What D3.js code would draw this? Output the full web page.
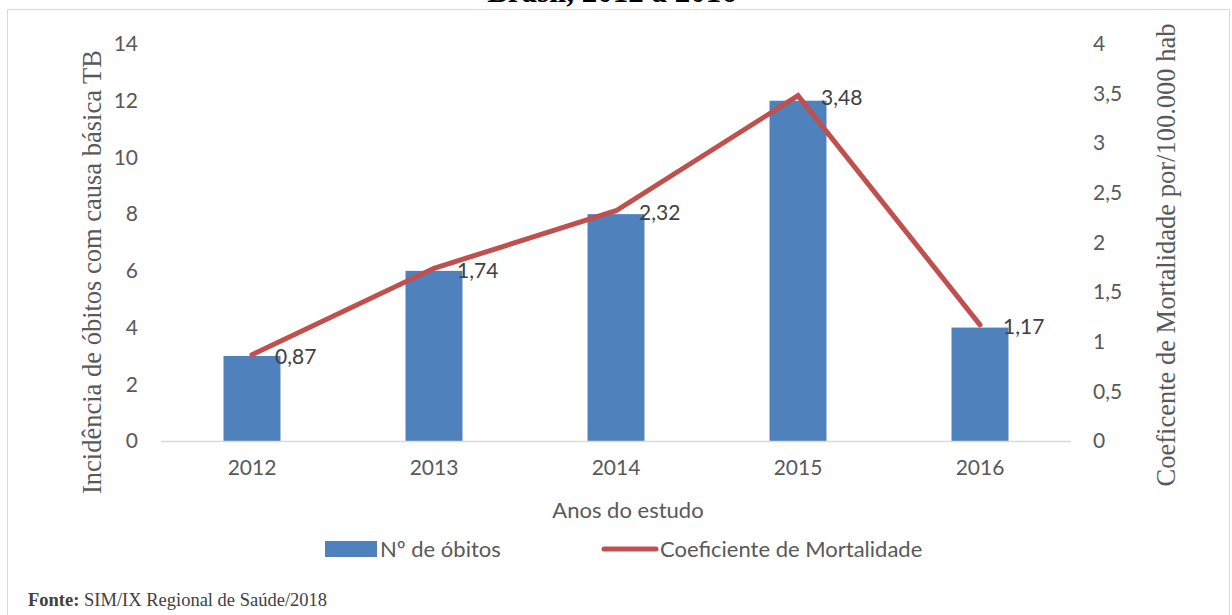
<!DOCTYPE html>
<html>
<head>
<meta charset="utf-8">
<script src="https://cdn.jsdelivr.net/npm/d3@7"></script>
<style>
  body { margin: 0; background: #fff; }
  svg { display: block; }
</style>
</head>
<body>
<svg width="1232" height="615"></svg>
<script>
const svg = d3.select("svg"),
    width = +svg.attr("width"),
    height = +svg.attr("height")

// data
const years = ["2012", "2013", "2014", "2015", "2016"],
    obitos = [3, 6, 8, 12, 4],
    coeficiente = [0.87, 1.74, 2.32, 3.48, 1.17],
    leftTicks = [0, 2, 4, 6, 8, 10, 12, 14],
    rightTicks = [0, 0.5, 1, 1.5, 2, 2.5, 3, 3.5, 4]

const tickFont = "Lato, 'Open Sans', sans-serif",
    serif = "'Liberation Serif', 'Times New Roman', serif",
    barColor = "#4F81BD",
    lineColor = "#C0504D",
    textColor = "#595959"

const plot = {left: 161, right: 1071, top: 44, bottom: 441}

const x = d3.scaleBand().domain(years).range([plot.left, plot.right]).paddingInner(0.687).paddingOuter(0.3435)
const y = d3.scaleLinear().domain([0, 14]).range([plot.bottom, plot.top])
const y2 = d3.scaleLinear().domain([0, 4]).range([plot.bottom, plot.top])

// outer frame
svg.append("rect")
    .attr("x", 7.5).attr("y", 9.5)
    .attr("width", 1222).attr("height", 640)
    .attr("fill", "none").attr("stroke", "#d9d9d9")

// title, cut off by the top edge in the original
svg.append("text")
    .attr("x", 612).attr("y", 2)
    .attr("text-anchor", "middle")
    .attr("font-family", serif).attr("font-weight", "bold")
    .attr("font-size", 31)
    .text("Brasil, 2012 a 2016")

// bars
svg.append("g").selectAll("rect")
    .data(obitos)
    .enter()
    .append("rect")
    .attr("x", (d, i) => x(years[i]))
    .attr("y", d => y(d))
    .attr("width", x.bandwidth())
    .attr("height", d => y(0) - y(d))
    .attr("fill", barColor)

// x axis line
svg.append("line")
    .attr("x1", plot.left).attr("x2", plot.right)
    .attr("y1", plot.bottom + 0.5).attr("y2", plot.bottom + 0.5)
    .attr("stroke", "#d9d9d9").attr("stroke-width", 1.5)

// line series on the secondary axis
const line = d3.line()
    .x((d, i) => x(years[i]) + x.bandwidth() / 2)
    .y(d => y2(d))

svg.append("path")
    .datum(coeficiente)
    .attr("d", line)
    .attr("fill", "none")
    .attr("stroke", lineColor)
    .attr("stroke-width", 5)
    .attr("stroke-linejoin", "miter")
    .attr("stroke-linecap", "round")

// data labels
svg.append("g").selectAll("text")
    .data(coeficiente)
    .enter()
    .append("text")
    .attr("x", (d, i) => x(years[i]) + x.bandwidth() / 2 + 23)
    .attr("y", d => y2(d) + 2)
    .attr("dy", "0.35em")
    .attr("font-family", tickFont).attr("font-size", 21)
    .attr("fill", "#404040")
    .text(d => String(d).replace(".", ","))

// left axis
const leftAxis = d3.axisLeft(y).tickValues(leftTicks).tickSize(0).tickPadding(0)
svg.append("g")
    .attr("transform", "translate(138,0)")
    .call(leftAxis)
    .call(g => g.select(".domain").remove())
    .selectAll("text")
    .attr("font-family", tickFont).attr("font-size", 21).attr("fill", textColor)

// right axis
const rightAxis = d3.axisRight(y2).tickValues(rightTicks).tickSize(0).tickPadding(0)
    .tickFormat(d => String(d).replace(".", ","))
svg.append("g")
    .attr("transform", "translate(1093,0)")
    .call(rightAxis)
    .call(g => g.select(".domain").remove())
    .selectAll("text")
    .attr("font-family", tickFont).attr("font-size", 21).attr("fill", textColor)

// category labels
const xAxis = d3.axisBottom(x).tickSize(0).tickPadding(0)
svg.append("g")
    .attr("transform", "translate(0,460)")
    .call(xAxis)
    .call(g => g.select(".domain").remove())
    .selectAll("text")
    .attr("font-family", tickFont).attr("font-size", 21).attr("fill", textColor)

// axis titles
svg.append("text")
    .attr("transform", "translate(101,272) rotate(-90)")
    .attr("text-anchor", "middle")
    .attr("font-family", serif).attr("font-size", 26.5).attr("fill", textColor)
    .text("Incidência de óbitos com causa básica TB")

svg.append("text")
    .attr("transform", "translate(1175,255) rotate(-90)")
    .attr("text-anchor", "middle")
    .attr("font-family", serif).attr("font-size", 26.5).attr("fill", textColor)
    .text("Coeficente de Mortalidade por/100.000 hab")

svg.append("text")
    .attr("x", 628).attr("y", 518)
    .attr("text-anchor", "middle")
    .attr("font-family", tickFont).attr("font-size", 22).attr("fill", textColor)
    .text("Anos do estudo")

// legend
const legend = svg.append("g").attr("font-family", tickFont).attr("font-size", 22).attr("fill", textColor)
legend.append("rect")
    .attr("x", 325).attr("y", 541).attr("width", 52).attr("height", 16)
    .attr("fill", barColor)
legend.append("text").attr("x", 380).attr("y", 549).attr("dy", "0.35em").text("Nº de óbitos")
legend.append("line")
    .attr("x1", 604).attr("x2", 656).attr("y1", 549).attr("y2", 549)
    .attr("stroke", lineColor).attr("stroke-width", 5).attr("stroke-linecap", "round")
legend.append("text").attr("x", 660).attr("y", 549).attr("dy", "0.35em").text("Coeficiente de Mortalidade")

// source note
const fonte = svg.append("text")
    .attr("x", 28).attr("y", 606)
    .attr("font-family", serif).attr("font-size", 18.5).attr("fill", "#404040")
fonte.append("tspan").attr("font-weight", "bold").text("Fonte:")
fonte.append("tspan").text(" SIM/IX Regional de Saúde/2018")
</script>
</body>
</html>
